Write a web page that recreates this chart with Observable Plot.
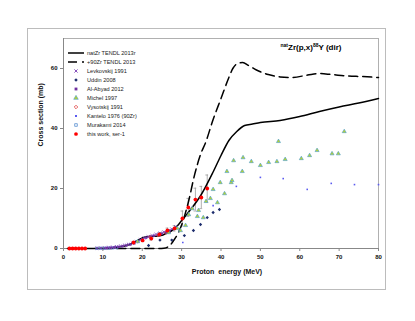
<!DOCTYPE html>
<html>
<head>
<meta charset="utf-8">
<script src="https://cdn.jsdelivr.net/npm/d3@7"></script>
<script src="https://cdn.jsdelivr.net/npm/@observablehq/plot@0.6"></script>
<style>
  body { margin: 0; background: white; }
  #wrap { position: relative; width: 415px; height: 321px; overflow: hidden; }
  #border { position: absolute; left: 27px; top: 28px; width: 357px; height: 260px; border: 1px solid #bcbcbc; pointer-events: none; }
</style>
</head>
<body>
<div id="wrap"><div id="chart"></div><div id="border"></div></div>
<script>
// ---- Data ----
const xTicks = [0, 10, 20, 30, 40, 50, 60, 70, 80];
const yTicks = [0, 20, 40, 60];

const natE = [1,5,10,12,14,16,18,19,20,21,22,24,25,26,27,28,29,30,32,35,38,40,42,44,46,48,50,55,60,65,70,75,80];
const natY = [0,0,0.1,0.2,0.5,1,2,2.8,3.5,3.9,4.0,4.2,4.4,5.0,5.5,6.5,7.7,9.3,12.5,18,25.5,31,36,39,41,41.5,42,42.7,44,45.7,47.2,48.5,50];

const zr90E = [10,15,20,24,25.5,27,28,29,30,31,32,33,34,35,36,38,40,42,43,44,45.5,47,49,52,55,58,62,65,68,72,76,80];
const zr90Y = [0,0,0,0,0.1,1,2.7,4.8,7.8,12,17,23,28,32,35,43,50,57,60,61.5,62,61,59.5,58,57.2,57,57.8,58.3,58,57.5,57.3,57];

const levE = [8.5,9.5,10.5,11.5,12.5,13.5,14.5,15.5,16.5,17.5,18.5,19.5,20.5,21.5,22.5,23.5,24.5,25.5,26.5,27.5,28.5];
const levY = [0.1,0.15,0.2,0.3,0.4,0.6,0.8,1.1,1.4,1.8,2.3,2.9,3.5,3.9,4.3,4.7,5.1,5.5,6.0,6.5,7.2];

const uddE = [21.6,24.5,27.5,30.7,33,34.8,36.5,38,39.6];
const uddY = [1,2.8,2.8,4.3,6,8,10.3,12,13];

const abyE = [11,12,13,14,15,16,17,18,19,20,21,22,23,24,25,26,27];
const abyY = [0.2,0.3,0.4,0.55,0.75,1.0,1.3,1.7,2.3,3.0,3.6,4.0,4.3,4.6,5.0,5.4,6.0];

const micE = [18.8,26.7,28.9,29.7,31,31.8,32.7,34,34.3,35.5,36.2,37.3,38,39.1,39.8,40.9,41.5,42.6,42.8,43.2,45.4,45.6,47.7,50,52.1,54.2,54.6,56.3,60.4,62.5,64.4,68.2,69.8,71.3];
const micY = [2.3,5.3,6.7,6,7.7,11.3,13.3,10.7,12.7,10.3,15.7,16.7,19.7,15.3,22,18.3,25.7,22,22.7,29.3,25.7,30.3,29,27.7,28.7,29,35.7,29.7,30,31,32.7,31.6,31.6,39];

const vysE = [22,24,26];
const vysY = [3.8,4.4,5.2];

const kanE = [30.3,38,43.9,50,55.8,61.9,68,73.9,80];
const kanY = [2,14.3,20.7,23.7,23.3,19.7,21.7,21.3,21.3];

const murE = [8.5,9.5,10.5,11.5,12.5,13.5];
const murY = [0.05,0.08,0.1,0.15,0.2,0.3];

const thisE = [1.5,2.3,3.1,3.9,4.7,5.5,17.8,20.1,22.3,24.4,26.4,28.2,30.2,31.7,33.5,35,36.5];
const thisY = [0,0,0,0,0,0,2,2.7,3.3,4.7,6,6.7,10,13.7,16.3,17,20];
const thisErr = [0,0,0,0,0,0,0.3,0.4,0.5,0.6,0.8,0.9,2.5,3,3.8,3.7,4.5];

const legendLabels = ["natZr TENDL 2013r","+90Zr TENDL 2013","Levkovskij 1991","Uddin 2008","Al-Abyad 2012","Michel 1997","Vysotskij 1991","Kantelo 1976 (90Zr)","Murakami 2014","this work, ser-1"];

// ---- Build tables ----
const zip = (E, Y) => E.map((e, i) => ({e, y: Y[i]}));
const nat = zip(natE, natY);
const zr90 = zip(zr90E, zr90Y);
const lev = zip(levE, levY);
const udd = zip(uddE, uddY);
const aby = zip(abyE, abyY);
const mic = zip(micE, micY);
const vys = zip(vysE, vysY);
const kan = zip(kanE, kanY);
const mur = zip(murE, murY);
const tw = thisE.map((e, i) => ({e, y: thisY[i], lo: thisY[i] - thisErr[i], hi: thisY[i] + thisErr[i], err: thisErr[i]}));
const twErr = tw.filter(d => d.err > 0);

const C = {
  lev: "#7B3FB5", udd: "#1C2C6C", aby: "#7030A0", micFill: "#B5D334", micStroke: "#4A9BD0",
  vys: "#E03C3C", kan: "#5A5AF0", mur: "#5B8FD0", tw: "#FF0000", err: "#9a9a9a"
};

const plot = Plot.plot({
  width: 415,
  height: 321,
  marginLeft: 63,
  marginRight: 37,
  marginTop: 38,
  marginBottom: 73,
  style: { fontFamily: "Liberation Sans, Arial, sans-serif", fontSize: "6px", fontWeight: "bold", background: "white", color: "#111" },
  x: { domain: [0, 80], ticks: xTicks, label: null },
  y: { domain: [0, 70], ticks: yTicks, label: null },
  marks: [
    Plot.frame({ stroke: "#b0b0b0", strokeWidth: 1 }),
    Plot.axisX({ ticks: xTicks, tickSize: 3, tickPadding: 3, stroke: "#888", label: null, fontWeight: "bold" }),
    Plot.axisY({ ticks: yTicks, tickSize: 3, tickPadding: 3, stroke: "#888", label: null, fontWeight: "bold" }),
    Plot.ruleY([0], { stroke: "#888" }),
    Plot.ruleX([0], { stroke: "#888" }),
    Plot.text(["Proton  energy (MeV)"], { frameAnchor: "bottom", dy: 25, dx: 6, fontSize: 7, fontWeight: "bold" }),
    Plot.text(["Cross section (mb)"], { frameAnchor: "left", dx: -23, dy: 3, rotate: -90, fontSize: 7, fontWeight: "bold" }),
    // error bars
    Plot.ruleX(twErr, { x: "e", y1: "lo", y2: "hi", stroke: C.err, strokeWidth: 0.8 }),
    Plot.ruleY(twErr, { y: "hi", x1: d => d.e - 0.35, x2: d => d.e + 0.35, stroke: C.err, strokeWidth: 0.8 }),
    Plot.ruleY(twErr, { y: "lo", x1: d => d.e - 0.35, x2: d => d.e + 0.35, stroke: C.err, strokeWidth: 0.8 }),
    // curves
    Plot.line(zr90, { x: "e", y: "y", stroke: "#000", strokeWidth: 1.5, strokeDasharray: "9,5", curve: "monotone-x" }),
    Plot.line(nat, { x: "e", y: "y", stroke: "#000", strokeWidth: 1.5, curve: "monotone-x" }),
    // data
    Plot.dot(mur, { x: "e", y: "y", symbol: "square", r: 1.3, stroke: C.mur, strokeWidth: 0.8, fill: "none" }),
    Plot.dot(aby, { x: "e", y: "y", symbol: "square", r: 1.3, fill: C.aby, stroke: "none" }),
    Plot.dot(lev, { x: "e", y: "y", symbol: "times", r: 1.5, stroke: C.lev, strokeWidth: 0.9 }),
    Plot.dot(vys, { x: "e", y: "y", symbol: "diamond2", r: 1.4, stroke: C.vys, strokeWidth: 0.8, fill: "none" }),
    Plot.dot(kan, { x: "e", y: "y", symbol: "square", r: 0.9, fill: C.kan, stroke: "none" }),
    Plot.dot(mic, { x: "e", y: "y", symbol: "triangle", r: 1.5, fill: C.micFill, stroke: C.micStroke, strokeWidth: 0.6 }),
    Plot.dot(udd, { x: "e", y: "y", symbol: "diamond2", r: 1.5, fill: C.udd, stroke: "none" }),
    Plot.dot(tw, { x: "e", y: "y", symbol: "circle", r: 1.9, fill: C.tw, stroke: "none" })
  ]
});

document.getElementById("chart").appendChild(plot);

// ---- Title with superscripts ----
const svg = d3.select(plot);
const title = svg.append("text")
  .attr("x", 311).attr("y", 50)
  .attr("text-anchor", "middle")
  .style("font-family", "Liberation Sans, Arial, sans-serif")
  .style("font-weight", "bold")
  .style("font-size", "8px")
  .attr("fill", "#000");
title.append("tspan").attr("font-size", "5px").attr("dy", "-3").text("nat");
title.append("tspan").attr("dy", "3").text("Zr(p,x)");
title.append("tspan").attr("font-size", "5px").attr("dy", "-3").text("88");
title.append("tspan").attr("dy", "3").text("Y (dir)");

// ---- Legend ----
const lg = svg.append("g")
  .attr("text-anchor", "start")
  .style("font-family", "Liberation Sans, Arial, sans-serif")
  .style("font-size", "5.6px")
  .style("font-weight", "normal");
const rowY = i => 53 + i * 9;
const mx = 76;
const sym = (type, size) => d3.symbol(type, size)();
legendLabels.forEach((lab, i) => {
  const y = rowY(i);
  if (i === 0) {
    lg.append("line").attr("x1", 68).attr("x2", 84).attr("y1", y).attr("y2", y).attr("stroke", "#000").attr("stroke-width", 1.5);
  } else if (i === 1) {
    lg.append("line").attr("x1", 68).attr("x2", 84).attr("y1", y).attr("y2", y).attr("stroke", "#000").attr("stroke-width", 1.5).attr("stroke-dasharray", "9,5");
  } else {
    const g = lg.append("g").attr("transform", `translate(${mx},${y})`);
    if (i === 2) g.append("path").attr("d", sym(d3.symbolTimes, 8)).attr("stroke", C.lev).attr("stroke-width", 0.9).attr("fill", "none");
    if (i === 3) g.append("path").attr("d", sym(d3.symbolDiamond2, 8)).attr("fill", C.udd);
    if (i === 4) g.append("path").attr("d", sym(d3.symbolSquare, 8)).attr("fill", C.aby);
    if (i === 5) g.append("path").attr("d", sym(d3.symbolTriangle, 9)).attr("fill", C.micFill).attr("stroke", C.micStroke).attr("stroke-width", 0.6);
    if (i === 6) g.append("path").attr("d", sym(d3.symbolDiamond2, 8)).attr("fill", "none").attr("stroke", C.vys).attr("stroke-width", 0.8);
    if (i === 7) g.append("path").attr("d", sym(d3.symbolSquare, 4)).attr("fill", C.kan);
    if (i === 8) g.append("path").attr("d", sym(d3.symbolSquare, 7)).attr("fill", "none").attr("stroke", C.mur).attr("stroke-width", 0.8);
    if (i === 9) g.append("path").attr("d", sym(d3.symbolCircle, 11)).attr("fill", C.tw);
  }
  lg.append("text").attr("x", 87).attr("y", y).attr("dy", "0.35em").attr("text-anchor", "start").attr("fill", "#222").text(lab);
});
</script>
</body>
</html>
